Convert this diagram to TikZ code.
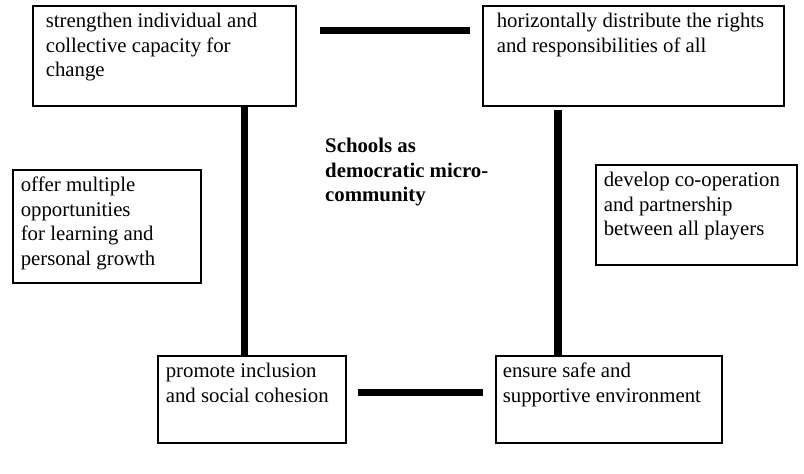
\documentclass[tikz,border=0pt]{standalone}
\usepackage{fontspec}
\setmainfont{Liberation Serif}
\newcommand\boxtxt[4]{\parbox[t][#2][t]{#1}{\raggedright\leftskip=#3\relax\fontsize{20.8pt}{24.5pt}\selectfont\rule{0pt}{22pt}#4}}
\tikzset{
  box/.style={draw=black, line width=1.6pt, inner sep=0pt, anchor=north west, fill=white},
  hconn/.style={line width=6.6pt, black},
  vconn/.style={line width=7.2pt, black},
}
\begin{document}
\begin{tikzpicture}[x=1pt,y=-1pt]
\useasboundingbox (0,0) rectangle (804,474);
\fill[white] (0,0) rectangle (804,474);

\node[box] (A) at (32,5) {\boxtxt{263pt}{100pt}{13pt}{strengthen individual and\\collective capacity for\\change}};
\node[box] (B) at (482,5) {\boxtxt{301pt}{100pt}{14pt}{horizontally distribute the rights\\and responsibilities of all}};
\node[box] (C) at (12,169) {\boxtxt{188pt}{113pt}{8pt}{offer multiple\\opportunities\\for learning and\\personal growth}};
\node[box] (D) at (595,164) {\boxtxt{201pt}{100pt}{8pt}{develop co-operation\\and partnership\\between all players}};
\node[box] (E) at (157,355) {\boxtxt{188pt}{87pt}{8pt}{promote inclusion\\and social cohesion}};
\node[box] (F) at (495,355) {\boxtxt{226pt}{87pt}{7pt}{ensure safe and\\supportive environment}};

\node[inner sep=0pt, anchor=north west] (T) at (325,132) {\parbox[t]{170pt}{\raggedright\fontsize{20.8pt}{24.8pt}\selectfont\bfseries\rule{0pt}{20pt}Schools as\\democratic micro-\\community}};

\coordinate (t1) at (320,30.7);
\coordinate (t2) at (470,30.7);
\coordinate (b1) at (357.5,392.7);
\coordinate (b2) at (482.5,392.7);
\coordinate (v1) at (244.7,0);
\coordinate (v2) at (558,0);

\draw[hconn] (t1) -- (t2);
\draw[hconn] (b1) -- (b2);
\draw[vconn] (A.south -| v1) -- (E.north -| v1);
\draw[vconn] ([yshift=-3pt]B.south -| v2) -- (F.north -| v2);
\end{tikzpicture}
\end{document}
